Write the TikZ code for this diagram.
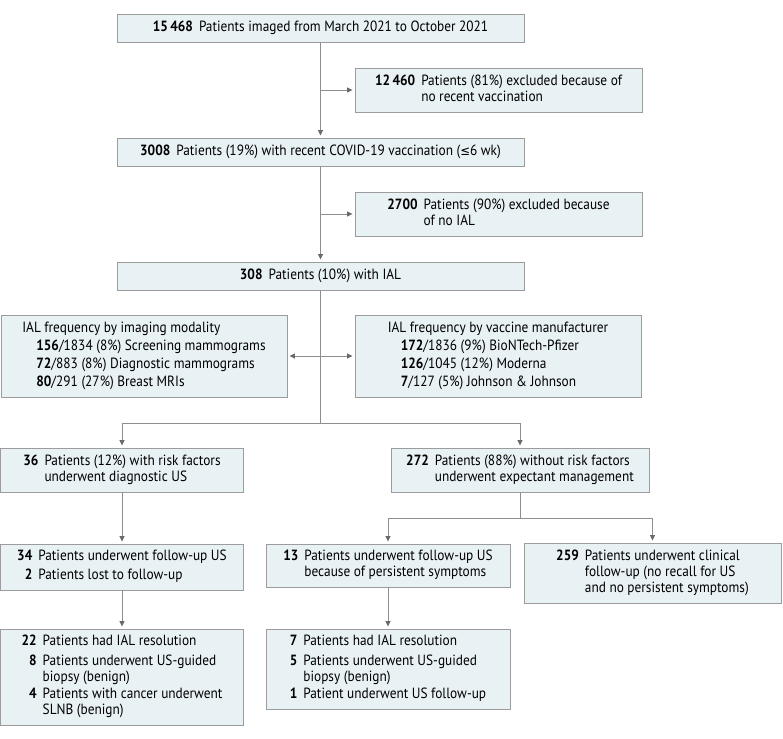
\documentclass[tikz,border=0pt]{standalone}
\usepackage{fontspec}
\setmainfont{PT Sans}[FakeStretch=0.9]
\newfontfamily\symf{DejaVu Sans}[FakeStretch=0.9]
\usetikzlibrary{arrows.meta}
\definecolor{boxfill}{HTML}{E8F1F4}
\definecolor{boxdraw}{HTML}{9C9C9C}
\definecolor{linec}{HTML}{8E8E8E}
\definecolor{tipc}{HTML}{6A6A6A}
\newcommand{\nb}[1]{\textbf{#1}}
\newcommand{\fs}{\fontsize{14.8}{16}\selectfont}
\newcommand{\fsw}{\fontsize{14.8}{18}\selectfont}
\tikzset{
  fbox/.style={draw=boxdraw, fill=boxfill, line width=0.9pt, inner sep=0pt, text=black},
  conn/.style={draw=linec, line width=0.9pt},
  arr/.style={conn, -{Triangle[length=5.5pt,width=5pt,color=tipc]}, shorten >=2pt},
  darr/.style={conn, {Triangle[length=5.5pt,width=5pt,color=tipc]}-{Triangle[length=5.5pt,width=5pt,color=tipc]}, shorten >=2pt, shorten <=2pt},
}
\begin{document}
\begin{tikzpicture}[x=1pt,y=-1pt]
\useasboundingbox (0,0) rectangle (783,738);
\node[fbox, minimum width=407pt, minimum height=28pt] (n1) at (320.5,28)
  {\fs\nb{15\,468}\hspace{6pt}Patients imaged from March 2021 to October 2021};
\node[fbox, minimum width=287pt, minimum height=44pt] (ex1) at (498.5,90)
  {\fs\begin{tabular}{@{}r@{\hspace{6pt}}l@{}}\nb{12\,460} & Patients (81\%) excluded because of\\ & no recent vaccination\end{tabular}};
\node[fbox, minimum width=407pt, minimum height=28pt] (n2) at (320.5,152)
  {\fs\nb{3008}\hspace{6pt}Patients (19\%) with recent COVID-19 vaccination ({\symf\fontsize{13}{16}\selectfont ≤}6 wk)};
\node[fbox, minimum width=287pt, minimum height=44pt] (ex2) at (498.5,214)
  {\fs\begin{tabular}{@{}r@{\hspace{6pt}}l@{}}\nb{2700} & Patients (90\%) excluded because\\ & of no IAL\end{tabular}};
\node[fbox, minimum width=407pt, minimum height=28pt] (n3) at (320.5,276)
  {\fs\nb{308}\hspace{6pt}Patients (10\%) with IAL};
\node[fbox, minimum width=286pt, minimum height=82pt] (mod) at (144,356)
  {\fsw\begin{tabular}{@{}l@{}}IAL frequency by imaging modality\\
   \hspace*{14pt}\nb{156}/1834 (8\%) Screening mammograms\\
   \hspace*{14pt}\nb{72}/883 (8\%) Diagnostic mammograms\\
   \hspace*{14pt}\nb{80}/291 (27\%) Breast MRIs\end{tabular}};
\node[fbox, minimum width=286pt, minimum height=82pt] (vac) at (498,356)
  {\fsw\begin{tabular}{@{}l@{}}IAL frequency by vaccine manufacturer\\
   \hspace*{13pt}\nb{172}/1836 (9\%) BioNTech-Pfizer\\
   \hspace*{13pt}\nb{126}/1045 (12\%) Moderna\\
   \hspace*{13pt}\nb{7}/127 (5\%) Johnson \& Johnson\end{tabular}};
\node[fbox, minimum width=243pt, minimum height=44pt] (b36) at (122,470)
  {\fs\begin{tabular}{@{}r@{\hspace{6pt}}l@{}}\nb{36} & Patients (12\%) with risk factors\\ & underwent diagnostic US\end{tabular}};
\node[fbox, minimum width=258pt, minimum height=44pt] (b272) at (520,470)
  {\fs\begin{tabular}{@{}r@{\hspace{6pt}}l@{}}\nb{272} & Patients (88\%) without risk factors\\ & underwent expectant management\end{tabular}};
\node[fbox, minimum width=243pt, minimum height=46pt] (b34) at (122,567)
  {\fs\begin{tabular}{@{}r@{\hspace{6pt}}l@{}}\nb{34} & Patients underwent follow-up US\\[3pt] \nb{2} & Patients lost to follow-up\end{tabular}};
\node[fbox, minimum width=244pt, minimum height=43pt] (b13) at (388,565.5)
  {\fs\begin{tabular}{@{}r@{\hspace{6pt}}l@{}}\nb{13} & Patients underwent follow-up US\\ & because of persistent symptoms\end{tabular}};
\node[fbox, minimum width=257pt, minimum height=60pt] (b259) at (652.5,573)
  {\fs\begin{tabular}{@{}r@{\hspace{6pt}}l@{}}\nb{259} & Patients underwent clinical\\ & follow-up (no recall for US\\ & and no persistent symptoms)\end{tabular}};
\node[fbox, minimum width=243pt, minimum height=96pt] (bl) at (122,677)
  {\fs\begin{tabular}{@{}r@{\hspace{6pt}}l@{}}\nb{22} & Patients had IAL resolution\\[4pt]
   \nb{8} & Patients underwent US-guided\\ & biopsy (benign)\\[1pt]
   \nb{4} & Patients with cancer underwent\\ & SLNB (benign)\end{tabular}};
\node[fbox, minimum width=244pt, minimum height=80pt] (bm) at (388,669)
  {\fs\begin{tabular}{@{}r@{\hspace{6pt}}l@{}}\nb{7} & Patients had IAL resolution\\[4pt]
   \nb{5} & Patients underwent US-guided\\ & biopsy (benign)\\[1pt]
   \nb{1} & Patient underwent US follow-up\end{tabular}};
% connectors
\coordinate (c1) at (320.5,90);
\coordinate (c2) at (320.5,214);
\coordinate (s1) at (320.5,423);
\coordinate (s2) at (520,518);
\draw[arr] (n1) -- (n2);
\draw[arr] (c1) -- (ex1);
\draw[arr] (n2) -- (n3);
\draw[arr] (c2) -- (ex2);
\draw[conn] (n3) -- (s1);
\draw[darr] (mod) -- (vac);
\draw[arr] (s1) -| (b36);
\draw[arr] (s1) -| (b272);
\draw[arr] (b36) -- (b34);
\draw[arr] (b34) -- (bl);
\draw[conn] (b272) -- (s2);
\draw[arr] (s2) -| (b13);
\draw[arr] (s2) -| (b259);
\draw[arr] (b13) -- (bm);
\end{tikzpicture}
\end{document}
